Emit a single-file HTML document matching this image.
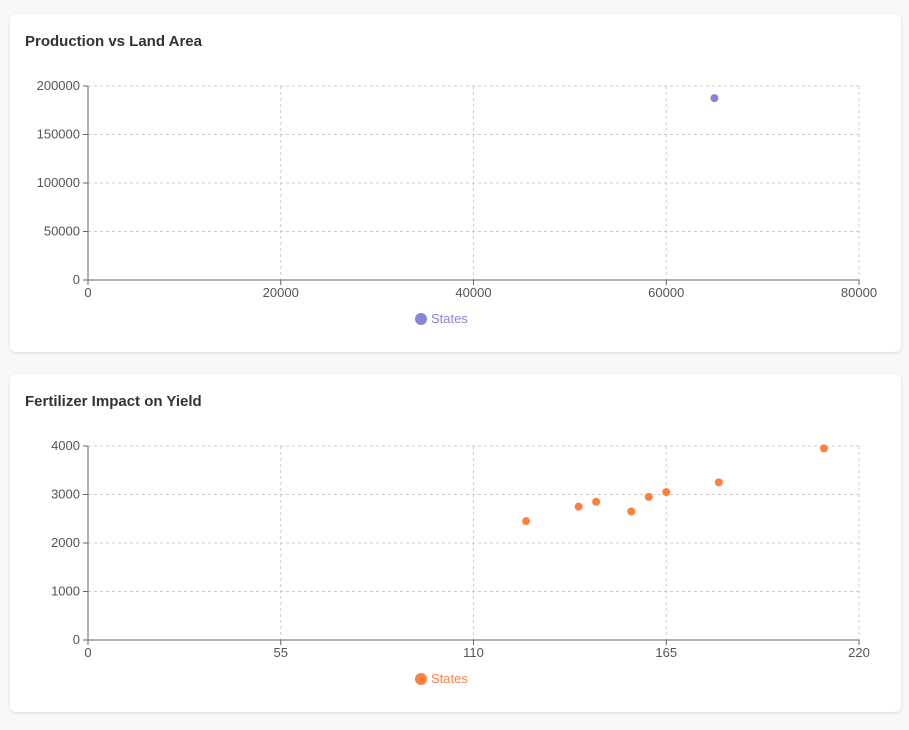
<!DOCTYPE html>
<html><head><meta charset="utf-8"><style>
body{margin:0;background:#f7f8fa;font-family:"Liberation Sans",sans-serif;width:909px;height:730px;overflow:hidden;position:relative}
.card{position:absolute;left:10px;width:891px;height:338px;background:#fff;border-radius:6px;box-shadow:0 1px 3px rgba(0,0,0,0.12)}
.title{position:absolute;left:15px;top:19px;font-size:15px;font-weight:bold;color:#333}
svg{position:absolute;left:0;top:0}
text{font-family:"Liberation Sans",sans-serif;font-size:13px;fill:#555}
</style></head><body>
<div class="card" style="top:14px"><div class="title">Production vs Land Area</div><svg id="c1" width="891" height="338"></svg></div>
<div class="card" style="top:374px"><div class="title">Fertilizer Impact on Yield</div><svg id="c2" width="891" height="338"></svg></div>
<script>
const xTicks1=[0,20000,40000,60000,80000];
const yTicks1=[0,50000,100000,150000,200000];
const xs1=[65000];
const ys1=[187500];
const xTicks2=[0,55,110,165,220];
const yTicks2=[0,1000,2000,3000,4000];
const xs2=[125,140,145,155,160,165,180,210];
const ys2=[2450,2750,2850,2650,2950,3050,3250,3950];
const NS='http://www.w3.org/2000/svg';
function mk(p,t,a){const e=document.createElementNS(NS,t);for(const k in a)e.setAttribute(k,a[k]);p.appendChild(e);return e;}
function draw(id,xT,yT,xs,ys,color){
 const svg=document.getElementById(id);
 const L=78,R=849,T=72,B=266;
 const xmax=xT[xT.length-1],ymax=yT[yT.length-1];
 const sx=v=>L+v/xmax*(R-L), sy=v=>B-v/ymax*(B-T);
 xT.forEach(v=>{
  const g=mk(svg,'line',{x1:sx(v),x2:sx(v),y1:T,y2:B,stroke:'#ccc','stroke-dasharray':'3 3'});
  
  
  mk(svg,'line',{x1:sx(v),x2:sx(v),y1:B,y2:B+5,stroke:'#666'});
  const t=mk(svg,'text',{x:sx(v),y:B+17,'text-anchor':'middle'});t.textContent=v;
  
  
 });
 yT.forEach(v=>{
  const g=mk(svg,'line',{x1:L,x2:R,y1:sy(v),y2:sy(v),stroke:'#ccc','stroke-dasharray':'3 3'});
  
  
  mk(svg,'line',{x1:L-5,x2:L,y1:sy(v),y2:sy(v),stroke:'#666'});
  const t=mk(svg,'text',{x:L-8,y:sy(v)+4,'text-anchor':'end'});t.textContent=v;
  
  
 });
 mk(svg,'line',{x1:L,x2:R,y1:B,y2:B,stroke:'#666'});
 mk(svg,'line',{x1:L,x2:L,y1:T,y2:B,stroke:'#666'});
 xs.forEach((x,i)=>{
  const c=mk(svg,'circle',{cx:sx(x),cy:sy(ys[i]),r:4,fill:color});
  
  
 });
 const lc=mk(svg,'circle',{cx:411,cy:305,r:6,fill:color});
 
 
 const lt=mk(svg,'text',{x:421,y:309,fill:color});lt.textContent='States';lt.style.fill=color;
 
 
}
draw('c1',xTicks1,yTicks1,xs1,ys1,'#8884d8');
draw('c2',xTicks2,yTicks2,xs2,ys2,'#ff7f3f');
</script>
</body></html>
